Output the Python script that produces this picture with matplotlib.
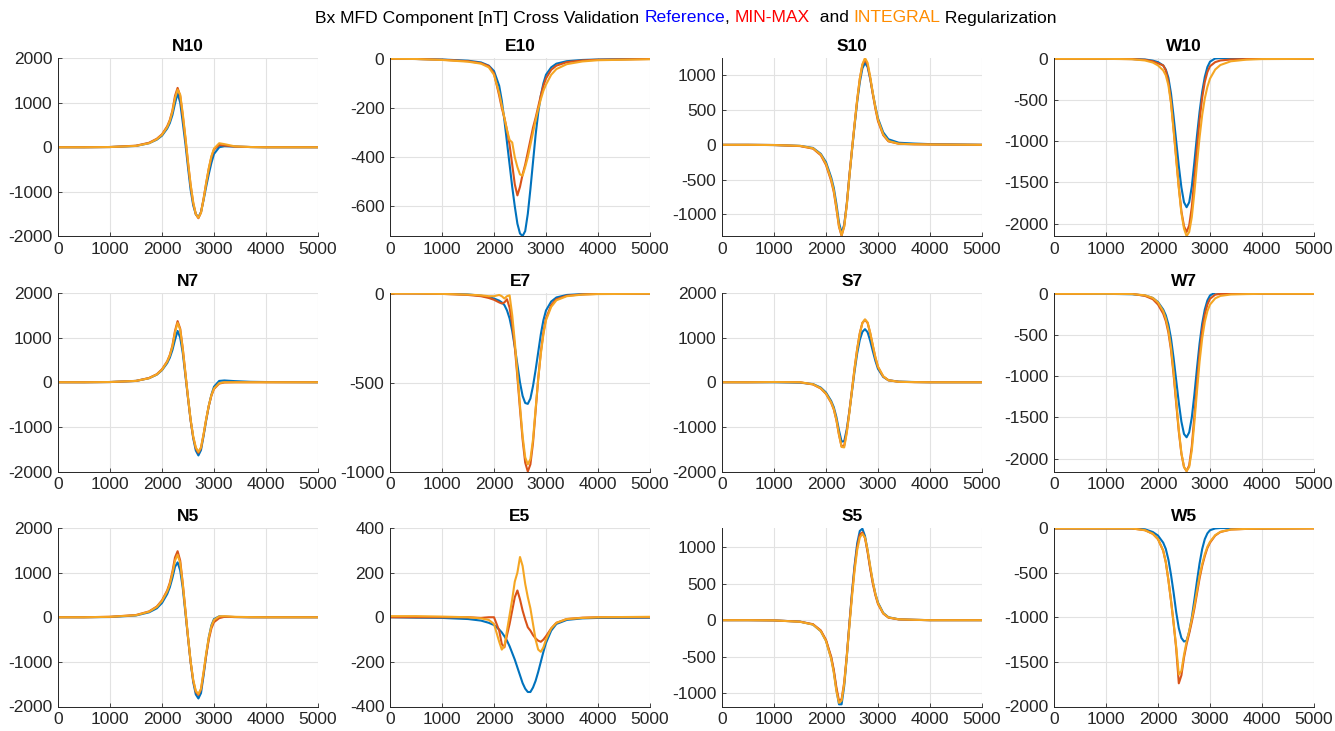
import numpy as np
import matplotlib.pyplot as plt

plt.rcParams['font.family'] = ['Liberation Sans', 'DejaVu Sans']
plt.rcParams['axes.unicode_minus'] = False

# sample positions along the track
x = [0, 500, 1000, 1500, 1750, 1900, 2000, 2100, 2150, 2200, 2250, 2300, 2350, 2400, 2450, 2500,
     2550, 2600, 2650, 2700, 2750, 2800, 2850, 2900, 2950, 3000, 3100, 3200, 3400, 3700, 4000, 5000]

# row 1 (index 10)
n10_ref = [0, 0, 5, 30, 90, 170, 260, 420, 540, 720, 980, 1210, 1000, 550, 80, -450, -950, -1300, -1500, -1570, -1450, -1180, -880, -600, -350, -150, 0, 25, 15, 5, 0, 0]
n10_mm = [0, 0, 5, 35, 100, 190, 290, 470, 610, 820, 1150, 1330, 1150, 700, 200, -350, -850, -1250, -1500, -1590, -1460, -1150, -800, -480, -220, -50, 50, 40, 15, 5, 0, 0]
n10_int = [0, 0, 5, 30, 90, 180, 280, 450, 590, 800, 1100, 1290, 1180, 750, 230, -320, -830, -1230, -1500, -1580, -1470, -1160, -800, -470, -200, -30, 90, 70, 20, 5, 0, 0]

e10_ref = [0, -1, -3, -8, -15, -28, -50, -110, -170, -250, -340, -430, -520, -600, -670, -710, -720, -700, -630, -530, -420, -310, -220, -150, -100, -65, -35, -20, -10, -5, -3, 0]
e10_mm = [0, -1, -4, -10, -18, -30, -60, -150, -200, -240, -290, -350, -430, -510, -555, -520, -470, -430, -380, -330, -280, -240, -195, -150, -110, -80, -45, -28, -14, -7, -4, -1]
e10_int = [0, -1, -5, -12, -20, -35, -65, -140, -190, -240, -290, -330, -340, -400, -440, -470, -475, -440, -400, -350, -300, -250, -205, -165, -130, -105, -65, -42, -22, -11, -6, -2]

s10_ref = [0, 0, -3, -15, -45, -130, -250, -470, -620, -850, -1120, -1270, -1150, -850, -450, -80, 280, 620, 900, 1100, 1180, 1120, 950, 740, 550, 380, 180, 80, 30, 18, 10, 0]
s10_mm = [0, 0, -3, -18, -55, -150, -290, -520, -680, -920, -1180, -1310, -1170, -850, -440, -60, 300, 650, 950, 1150, 1230, 1150, 960, 730, 520, 340, 140, 50, 15, 8, 5, 0]
s10_int = [0, 0, -3, -15, -50, -140, -275, -500, -660, -900, -1170, -1300, -1180, -870, -460, -70, 300, 650, 950, 1160, 1250, 1180, 980, 750, 540, 360, 150, 55, 15, 8, 5, 0]

w10_ref = [0, 0, 0, -2, -8, -22, -40, -80, -130, -230, -420, -700, -1000, -1300, -1560, -1740, -1800, -1740, -1550, -1250, -930, -640, -400, -220, -100, -35, 5, 10, 5, 2, 0, 0]
w10_mm = [0, 0, 0, -3, -12, -30, -55, -80, -140, -280, -520, -850, -1200, -1550, -1850, -2030, -2100, -2020, -1800, -1450, -1080, -740, -470, -280, -160, -90, -40, -20, -8, -3, 0, 0]
w10_int = [0, 0, 0, -5, -20, -45, -80, -140, -200, -320, -540, -870, -1220, -1570, -1870, -2060, -2150, -2100, -1920, -1620, -1270, -950, -680, -480, -340, -240, -130, -75, -30, -10, -3, 0]

# row 2 (index 7)
n7_ref = [0, 0, 5, 30, 90, 170, 270, 430, 550, 720, 950, 1150, 1000, 650, 150, -350, -850, -1250, -1530, -1640, -1520, -1200, -850, -530, -280, -100, 30, 40, 25, 10, 5, 0]
n7_mm = [0, 0, 5, 30, 95, 180, 290, 470, 610, 820, 1150, 1370, 1200, 750, 200, -350, -850, -1230, -1480, -1580, -1470, -1170, -830, -530, -300, -150, -30, -5, 0, 0, 0, 0]
n7_int = [0, 0, 5, 30, 90, 175, 280, 460, 600, 800, 1120, 1330, 1180, 740, 210, -330, -830, -1210, -1460, -1560, -1460, -1160, -820, -520, -290, -140, -20, 0, 0, 0, 0, 0]

e7_ref = [3, 2, 0, -5, -12, -20, -28, -40, -50, -65, -95, -140, -210, -300, -400, -500, -575, -615, -620, -590, -520, -430, -330, -230, -150, -95, -45, -22, -8, -3, 0, 0]
e7_mm = [0, 0, -2, -8, -15, -25, -35, -50, -56, -50, -32, -80, -170, -300, -470, -650, -820, -950, -1000, -960, -840, -660, -480, -330, -220, -140, -65, -32, -12, -5, -2, -1]
e7_int = [0, 0, -2, -6, -10, -15, -15, -8, -15, -28, -15, -10, -120, -270, -450, -630, -800, -920, -960, -930, -820, -650, -480, -340, -230, -150, -75, -38, -15, -6, -3, -1]

s7_ref = [0, 0, 0, -10, -40, -120, -230, -420, -560, -780, -1080, -1330, -1320, -1050, -650, -200, 250, 650, 950, 1130, 1190, 1120, 930, 700, 480, 300, 120, 45, 15, 5, 0, 0]
s7_mm = [0, 0, 5, 0, -50, -140, -260, -460, -610, -850, -1180, -1440, -1420, -1100, -650, -160, 320, 750, 1100, 1330, 1400, 1330, 1100, 820, 550, 340, 130, 45, 10, 3, 0, 0]
s7_int = [0, 0, 5, 0, -45, -135, -255, -450, -600, -840, -1170, -1450, -1460, -1130, -680, -180, 310, 740, 1090, 1330, 1410, 1340, 1110, 830, 560, 350, 135, 45, 10, 3, 0, 0]

w7_ref = [0, 0, 0, -5, -20, -50, -100, -190, -260, -370, -540, -780, -1050, -1320, -1550, -1700, -1740, -1680, -1500, -1220, -900, -600, -360, -190, -80, -20, 15, 10, 3, 0, 0, 0]
w7_mm = [0, 0, 10, 0, -25, -65, -130, -240, -330, -470, -680, -980, -1330, -1670, -1940, -2100, -2150, -2080, -1850, -1480, -1080, -720, -440, -250, -130, -60, -10, 0, 0, 0, 0, 0]
w7_int = [0, 0, 0, -3, -18, -50, -105, -210, -300, -440, -650, -950, -1300, -1650, -1930, -2100, -2150, -2100, -1900, -1560, -1180, -820, -540, -340, -210, -130, -55, -25, -8, -3, 0, 0]

# row 3 (index 5)
n5_ref = [0, 0, 5, 40, 110, 200, 320, 520, 670, 880, 1130, 1230, 1050, 650, 100, -450, -1000, -1450, -1730, -1820, -1700, -1300, -850, -450, -180, -40, 20, 10, 5, 0, 0, 0]
n5_mm = [0, 0, 10, 50, 130, 240, 380, 600, 770, 1020, 1340, 1480, 1270, 750, 150, -450, -1000, -1420, -1670, -1740, -1620, -1250, -850, -500, -250, -110, -20, 10, 5, 0, 0, 0]
n5_int = [0, 0, 10, 45, 125, 230, 365, 580, 740, 980, 1270, 1400, 1220, 740, 160, -430, -980, -1400, -1650, -1720, -1600, -1220, -800, -450, -200, -60, 20, 25, 10, 3, 0, 0]

e5_ref = [0, -2, -3, -8, -15, -25, -35, -55, -68, -85, -105, -130, -160, -190, -225, -260, -295, -320, -335, -335, -315, -285, -245, -200, -155, -115, -60, -30, -12, -5, -3, -2]
e5_mm = [0, 0, 0, 0, -3, 0, 0, -60, -120, -135, -80, -30, 30, 90, 120, 80, 30, -10, -45, -60, -80, -95, -105, -110, -100, -85, -50, -25, -8, -2, 0, 0]
e5_int = [5, 5, 3, 0, -5, -12, -30, -110, -145, -130, -60, 10, 80, 160, 200, 270, 230, 150, 90, 40, -30, -100, -145, -155, -135, -100, -50, -25, -8, -3, 0, 2]

s5_ref = [0, 0, -3, -20, -60, -150, -280, -520, -700, -950, -1150, -1150, -900, -500, -50, 380, 750, 1050, 1220, 1250, 1150, 950, 720, 520, 360, 240, 100, 40, 12, 5, 0, 0]
s5_mm = [0, 0, -3, -20, -55, -140, -270, -500, -680, -920, -1100, -1080, -850, -480, -50, 360, 720, 1000, 1170, 1200, 1120, 930, 700, 500, 340, 220, 90, 35, 10, 5, 0, 0]
s5_int = [0, 0, -3, -22, -60, -150, -285, -530, -720, -970, -1130, -1100, -870, -500, -80, 320, 680, 960, 1130, 1180, 1130, 960, 740, 530, 360, 230, 95, 38, 12, 5, 0, 0]

w5_ref = [0, 0, 0, 0, -10, -40, -80, -160, -230, -350, -520, -720, -940, -1120, -1230, -1270, -1260, -1160, -1000, -800, -590, -390, -230, -120, -55, -20, 0, 5, 3, 2, 0, 5]
w5_mm = [0, 0, 0, 0, -20, -60, -120, -250, -380, -580, -810, -1065, -1350, -1740, -1650, -1450, -1300, -1180, -1050, -900, -730, -560, -420, -310, -220, -160, -80, -40, -12, -5, -2, 0]
w5_int = [0, 0, 0, 0, -20, -60, -120, -250, -380, -580, -810, -1060, -1330, -1640, -1600, -1420, -1270, -1150, -1020, -870, -700, -530, -400, -290, -205, -150, -75, -38, -12, -5, -2, 0]

panels = [
    ('N10', n10_ref, n10_mm, n10_int, (-2000, 2000), np.arange(-2000, 2001, 1000)),
    ('E10', e10_ref, e10_mm, e10_int, (-722, 3), np.arange(-600, 1, 200)),
    ('S10', s10_ref, s10_mm, s10_int, (-1320, 1250), np.arange(-1000, 1001, 500)),
    ('W10', w10_ref, w10_mm, w10_int, (-2155, 10), np.arange(-2000, 1, 500)),
    ('N7', n7_ref, n7_mm, n7_int, (-2000, 2000), np.arange(-2000, 2001, 1000)),
    ('E7', e7_ref, e7_mm, e7_int, (-1000, 3), np.arange(-1000, 1, 500)),
    ('S7', s7_ref, s7_mm, s7_int, (-2000, 2000), np.arange(-2000, 2001, 1000)),
    ('W7', w7_ref, w7_mm, w7_int, (-2155, 10), np.arange(-2000, 1, 500)),
    ('N5', n5_ref, n5_mm, n5_int, (-2000, 2000), np.arange(-2000, 2001, 1000)),
    ('E5', e5_ref, e5_mm, e5_int, (-400, 400), np.arange(-400, 401, 200)),
    ('S5', s5_ref, s5_mm, s5_int, (-1180, 1260), np.arange(-1000, 1001, 500)),
    ('W5', w5_ref, w5_mm, w5_int, (-2000, 5), np.arange(-2000, 1, 500)),
]

W, H = 1335, 731
fig = plt.figure(figsize=(W / 100, H / 100), dpi=100)

col_left = [58, 390, 722, 1054]
row_top = [58, 293, 528]
ax_w, ax_h = 260, 178.5

c_ref, c_mm, c_int = '#0072BD', '#D95319', '#F5A623'

for i, (name, ref, mm, integ, ylim, yt) in enumerate(panels):
    r, c = divmod(i, 4)
    ax = fig.add_axes([col_left[c] / W, 1 - (row_top[r] + ax_h) / H, ax_w / W, ax_h / H])
    ax.plot(x, ref, color=c_ref, lw=1.5)
    ax.plot(x, mm, color=c_mm, lw=1.5)
    ax.plot(x, integ, color=c_int, lw=1.5)
    ax.set_xlim(0, 5000)
    ax.set_ylim(*ylim)
    ax.set_xticks(range(0, 5001, 1000))
    ax.set_yticks(yt)
    ax.grid(True, color='#e2e2e2', lw=0.8)
    ax.set_axisbelow(True)
    for s in ['top', 'right']:
        ax.spines[s].set_visible(False)
    for s in ['left', 'bottom']:
        ax.spines[s].set_color('#262626')
        ax.spines[s].set_linewidth(0.7)
    ax.tick_params(direction='in', length=3, width=0.6, labelsize=12.5, colors='#262626', pad=4)
    ax.set_title(name, fontsize=12.5, fontweight='bold', pad=5)

# title with coloured method names, centred over the grid of panels
parts = [('Bx MFD Component [nT] Cross Validation ', 'black'), ('Reference', '#0000FF'),
         (', ', 'black'), ('MIN-MAX', '#FF0000'), ('  and ', 'black'),
         ('INTEGRAL', '#FF8C00'), (' Regularization', 'black')]
fig.canvas.draw()
rend = fig.canvas.get_renderer()
texts = []
for s, col in parts:
    texts.append(fig.text(0, 0, s, color=col, fontsize=12.6, va='center'))
widths = [t.get_window_extent(rend).width for t in texts]
xpos = (col_left[0] + col_left[3] + ax_w) / 2 - sum(widths) / 2
for t, w in zip(texts, widths):
    t.set_position((xpos / W, 1 - 18 / H))
    xpos += w

fig.savefig('out.png', dpi=100)
